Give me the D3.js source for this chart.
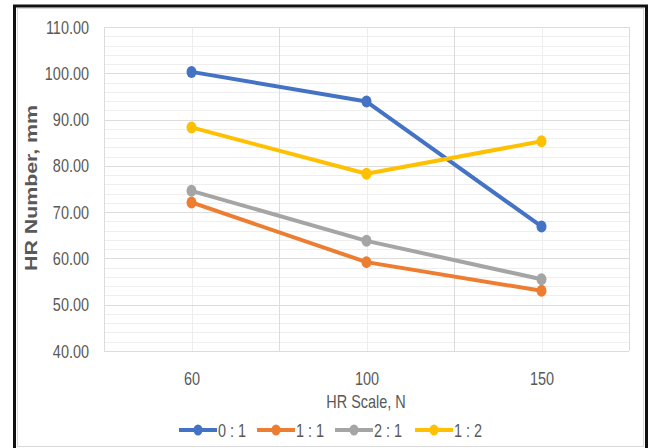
<!DOCTYPE html>
<html>
<head>
<meta charset="utf-8">
<script src="https://cdn.jsdelivr.net/npm/d3@7"></script>
<style>
  html, body { margin: 0; padding: 0; background: #fff; }
  svg { display: block; }
  text { font-family: "Liberation Sans", Arial, sans-serif; fill: #595959; }
</style>
</head>
<body>
<svg id="chart" width="648" height="448"></svg>
<script>
const categories = ["60", "100", "150"];
const seriesNames = ["0 : 1", "1 : 1", "2 : 1", "1 : 2"];
const series01 = [100.3, 93.9, 66.9];
const series11 = [72.1, 59.2, 53.0];
const series21 = [74.6, 63.8, 55.5];
const series12 = [88.3, 78.3, 85.3];
const colors = ["#4472C4", "#ED7D31", "#A5A5A5", "#FFC000"];
const yTicks = [40, 50, 60, 70, 80, 90, 100, 110];
const yTitle = "HR Number, mm";
const xTitle = "HR Scale, N";

const allSeries = [series01, series11, series21, series12].map((v, i) => ({
  name: seriesNames[i], values: v, color: colors[i]
}));

const svg = d3.select("#chart");
const plot = { left: 104, right: 629, top: 27, bottom: 351 };
const FS = 19;
const NF = 0.76;

// narrow the glyphs horizontally (tall, condensed look)
function narrow(sel, f) {
  sel.each(function () {
    const len = this.getComputedTextLength();
    d3.select(this).attr("textLength", len * f).attr("lengthAdjust", "spacingAndGlyphs");
  });
}

// frame
svg.append("rect").attr("x", 0).attr("y", 0).attr("width", 648).attr("height", 448).attr("fill", "#fff");
svg.append("rect").attr("x", 17.5).attr("y", 8.5).attr("width", 626).attr("height", 438)
  .attr("fill", "none").attr("stroke", "#d9d9d9").attr("stroke-width", 1);
svg.append("line").attr("x1", 14.5).attr("x2", 14.5).attr("y1", 5).attr("y2", 448).attr("stroke", "#111").attr("stroke-width", 3);
svg.append("line").attr("x1", 13).attr("x2", 648).attr("y1", 6).attr("y2", 6).attr("stroke", "#111").attr("stroke-width", 3);
svg.append("line").attr("x1", 646.5).attr("x2", 646.5).attr("y1", 5).attr("y2", 448).attr("stroke", "#111").attr("stroke-width", 3);

const y = d3.scaleLinear().domain([40, 110]).range([plot.bottom, plot.top]);
const x = d3.scalePoint().domain(categories).range([plot.left, plot.right]).padding(0.5);
const xb = d3.scaleBand().domain(categories).range([plot.left, plot.right]).paddingInner(0).paddingOuter(0);

// minor horizontal gridlines
const minor = d3.range(40, 110.01, 2);
svg.append("g").selectAll("line").data(minor).join("line")
  .attr("x1", plot.left).attr("x2", plot.right)
  .attr("y1", d => Math.round(y(d)) + 0.5).attr("y2", d => Math.round(y(d)) + 0.5)
  .attr("stroke", "#eeeeee").attr("stroke-width", 1);
// minor vertical gridlines at categories
svg.append("g").selectAll("line").data(categories).join("line")
  .attr("x1", d => Math.round(x(d)) + 0.5).attr("x2", d => Math.round(x(d)) + 0.5)
  .attr("y1", plot.top).attr("y2", plot.bottom)
  .attr("stroke", "#eeeeee").attr("stroke-width", 1);
// major horizontal gridlines
svg.append("g").selectAll("line").data(yTicks).join("line")
  .attr("x1", plot.left).attr("x2", plot.right)
  .attr("y1", d => Math.round(y(d)) + 0.5).attr("y2", d => Math.round(y(d)) + 0.5)
  .attr("stroke", "#dcdcdc").attr("stroke-width", 1);
// major vertical gridlines at category boundaries
const bounds = categories.map(c => xb(c)).concat([plot.right]);
svg.append("g").selectAll("line").data(bounds).join("line")
  .attr("x1", d => Math.round(d) + 0.5).attr("x2", d => Math.round(d) + 0.5)
  .attr("y1", plot.top).attr("y2", plot.bottom)
  .attr("stroke", "#dcdcdc").attr("stroke-width", 1);

// y axis
const yAxis = svg.append("g").attr("transform", `translate(${plot.left},0)`)
  .call(d3.axisLeft(y).tickValues(yTicks).tickFormat(d3.format(".2f")).tickSize(0).tickPadding(15));
yAxis.select(".domain").remove();
yAxis.selectAll("text").attr("font-size", FS).attr("fill", "#595959")
  .style("font-family", '"Liberation Sans", Arial, sans-serif').call(narrow, NF);

// x axis
const xAxis = svg.append("g").attr("transform", `translate(0,${plot.bottom})`)
  .call(d3.axisBottom(x).tickSize(0).tickPadding(21));
xAxis.select(".domain").remove();
xAxis.selectAll("text").attr("font-size", FS).attr("fill", "#595959")
  .style("font-family", '"Liberation Sans", Arial, sans-serif').call(narrow, NF);

// axis titles
svg.append("text").attr("x", 366).attr("y", 408).attr("text-anchor", "middle")
  .attr("font-size", 18.5).text(xTitle).call(narrow, 0.78);
svg.append("text").attr("transform", "translate(37,188) rotate(-90)")
  .attr("text-anchor", "middle").attr("font-size", 16.5).attr("font-weight", "bold")
  .attr("textLength", 166).attr("lengthAdjust", "spacingAndGlyphs")
  .text(yTitle);

// lines
const line = d3.line().x((d, i) => x(categories[i])).y(d => y(d));
const gS = svg.append("g");
allSeries.forEach(s => {
  gS.append("path").attr("d", line(s.values)).attr("fill", "none")
    .attr("stroke", s.color).attr("stroke-width", 4).attr("stroke-linejoin", "round").attr("stroke-linecap", "round");
  gS.append("g").selectAll("ellipse").data(s.values).join("ellipse")
    .attr("cx", (d, i) => x(categories[i])).attr("cy", d => y(d))
    .attr("rx", 5).attr("ry", 6).attr("fill", s.color);
});

// legend
const legendX = [179, 257, 335, 415];
const legendY = 430;
const lg = svg.append("g");
allSeries.forEach((s, i) => {
  const g = lg.append("g").attr("transform", `translate(${legendX[i]},${legendY})`);
  g.append("line").attr("x1", 0).attr("x2", 38).attr("y1", 0).attr("y2", 0)
    .attr("stroke", s.color).attr("stroke-width", 4);
  g.append("ellipse").attr("cx", 19).attr("cy", 0).attr("rx", 4.5).attr("ry", 5.5).attr("fill", s.color);
  g.append("text").attr("x", 39).attr("y", 0).attr("dy", "0.36em").attr("font-size", FS).text(s.name).call(narrow, NF);
});
</script>
</body>
</html>
